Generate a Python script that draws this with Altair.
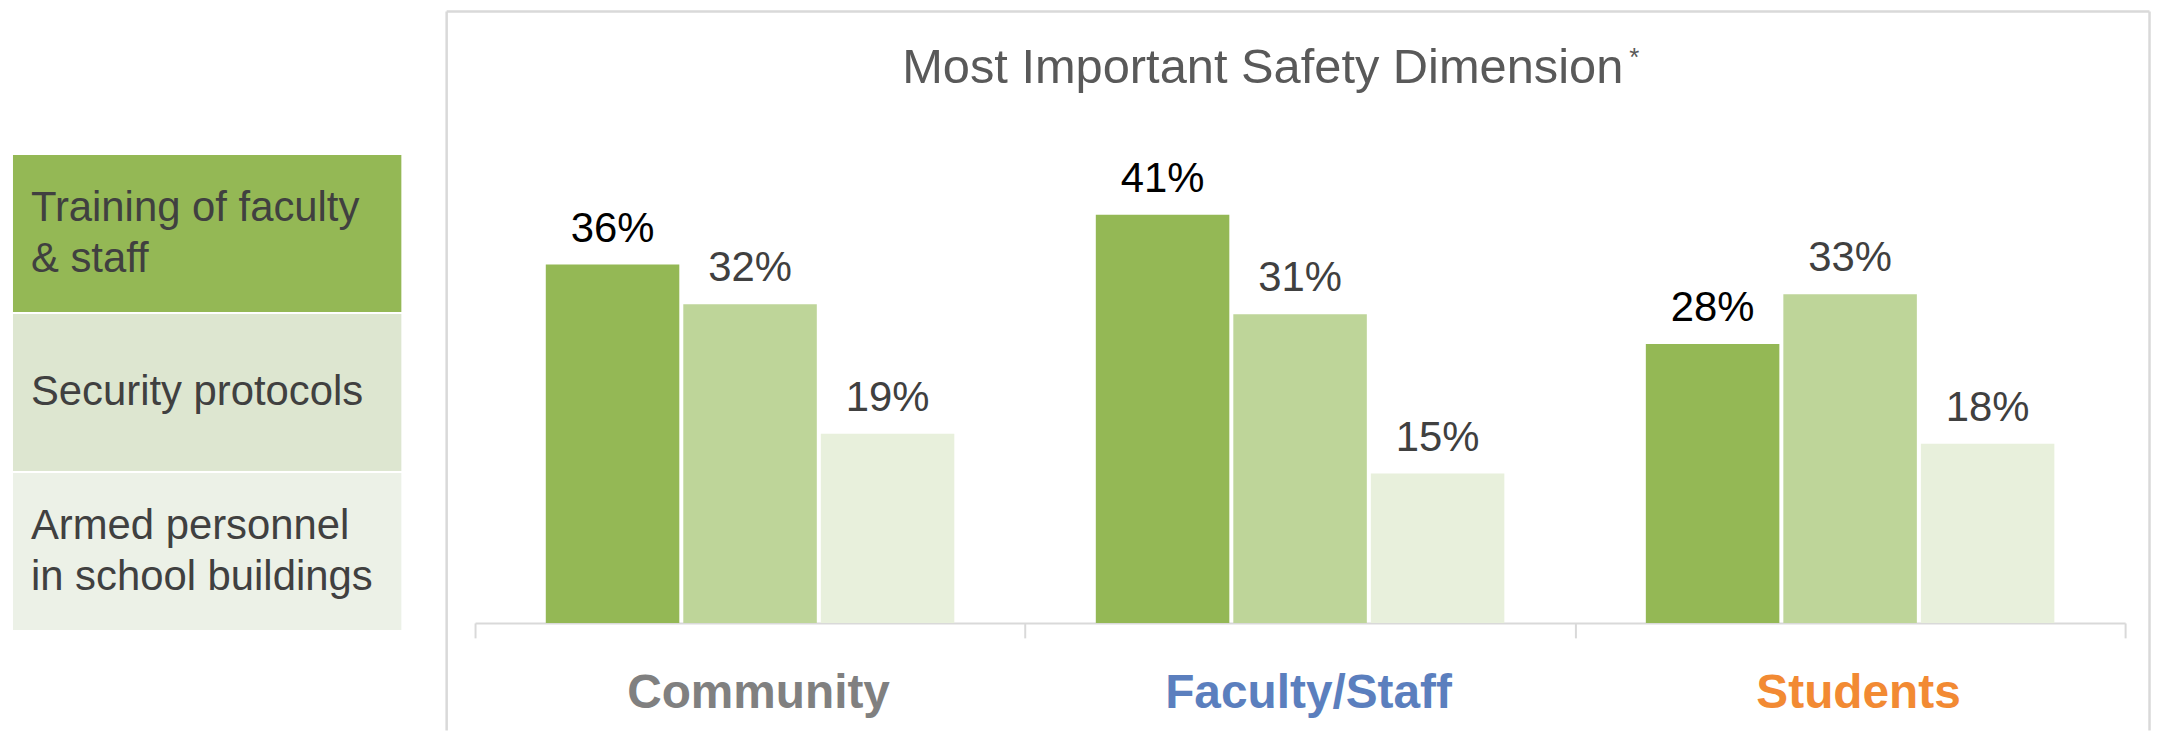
import altair as alt
import pandas as pd

# ---- data ----
categories = ["Community", "Faculty/Staff", "Students"]
series = ["Training of faculty & staff", "Security protocols", "Armed personnel in school buildings"]
legend_labels = ["Training of faculty\n& staff", "Security protocols", "Armed personnel\nin school buildings"]
training = [36, 41, 28]
security = [32, 31, 33]
armed = [19, 15, 18]
title_text = ["Most Important Safety Dimension"]
title_note = ["*"]

# ---- styles ----
category_colors = ["#808080", "#5b7fbe", "#f28a33"]
bar_colors = ["#94b855", "#bed599", "#e8f0dc"]
legend_colors = ["#94b855", "#dde6d0", "#ecf1e7"]
FONT = "Liberation Sans"
W, H = 1657, 470
YMAX = 47
FRAME = "#d9d9d9"
LINE_H = 51

rows = []
for s, vals in zip(series, [training, security, armed]):
    for c, v in zip(categories, vals):
        rows.append({"category": c, "series": s, "value": v})
df = pd.DataFrame(rows)

label_color = {
    "condition": [
        {"test": f"datum.value === '{c}'", "value": col}
        for c, col in zip(categories[:-1], category_colors[:-1])
    ],
    "value": category_colors[-1],
}

base = alt.Chart(df).encode(
    x=alt.X(
        "category:N",
        sort=categories,
        scale=alt.Scale(paddingInner=0, paddingOuter=0),
        axis=alt.Axis(
            title=None,
            labelAngle=0,
            labelLimit=0,
            labelOffset=8,
            labelFont=FONT,
            labelFontSize=48,
            labelFontWeight="bold",
            labelColor=label_color,
            labelBaseline="alphabetic",
            labelPadding=70,
            domainColor=FRAME,
            domainWidth=2,
            tickColor=FRAME,
            tickWidth=2,
            tickSize=15,
            tickBand="extent",
        ),
    ),
    xOffset=alt.XOffset("series:N", sort=series, scale=alt.Scale(paddingInner=0.029, paddingOuter=0.5145)),
    y=alt.Y("value:Q", scale=alt.Scale(domain=[0, YMAX]), axis=None),
)

bars = base.mark_bar().encode(
    color=alt.Color("series:N", sort=series, scale=alt.Scale(domain=series, range=bar_colors), legend=None)
)

labels = (
    base.transform_calculate(label="datum.value + '%'")
    .mark_text(baseline="alphabetic", dy=-23, font=FONT, fontSize=42)
    .encode(
        text="label:N",
        color=alt.condition(alt.datum.series == series[0], alt.value("#000000"), alt.value("#404040")),
    )
)

one = pd.DataFrame({"t": title_text})
title_mark = alt.Chart(one).mark_text(
    align="center", baseline="alphabetic", font=FONT, fontSize=49, color="#595959"
).encode(text="t:N", x=alt.value(791), y=alt.value(-72))

note = pd.DataFrame({"t": title_note})
note_mark = alt.Chart(note).mark_text(
    align="left", baseline="alphabetic", font=FONT, fontSize=26, color="#595959"
).encode(text="t:N", x=alt.value(1159), y=alt.value(-89))

frame_data = pd.DataFrame({"k": [0]})
frame_left = alt.Chart(frame_data).mark_rule(color=FRAME, strokeWidth=2.5).encode(
    x=alt.value(-28.5), y=alt.value(-144), y2=alt.value(578)
)
frame_top = alt.Chart(frame_data).mark_rule(color=FRAME, strokeWidth=2.5).encode(
    x=alt.value(-28.5), x2=alt.value(W + 24.5), y=alt.value(-144)
)
frame_right = alt.Chart(frame_data).mark_rule(color=FRAME, strokeWidth=2.5).encode(
    x=alt.value(W + 24.5), y=alt.value(-144), y2=alt.value(578)
)

bar_chart = alt.layer(
    frame_left, frame_top, frame_right, bars, labels, title_mark, note_mark
).properties(width=W, height=H)

leg_df = pd.DataFrame({"series": series, "label": legend_labels})
leg_base = alt.Chart(leg_df).encode(
    y=alt.Y("series:N", sort=series, scale=alt.Scale(paddingInner=0.0126, paddingOuter=0), axis=None)
)
leg_rect = leg_base.mark_rect().encode(
    x=alt.value(0),
    x2=alt.value(390),
    color=alt.Color("series:N", sort=series, scale=alt.Scale(domain=series, range=legend_colors), legend=None),
)
leg_text = (
    leg_base.transform_calculate(nlines="length(split(datum.label, '\\n'))")
    .mark_text(
        align="left",
        baseline="middle",
        lineBreak="\n",
        lineHeight=LINE_H,
        font=FONT,
        fontSize=42,
        color="#404040",
        dy={"expr": f"-(datum.nlines - 1) * {LINE_H / 2}"},
    )
    .encode(text="label:N", x=alt.value(18))
)
legend = alt.layer(leg_rect, leg_text).properties(width=390, height=477)

chart = (
    alt.hconcat(legend, bar_chart, spacing=74, bounds="flush")
    .resolve_scale(color="independent")
    .properties(padding={"left": 4, "top": 0, "right": 0, "bottom": 0})
    .configure(font=FONT)
    .configure_view(stroke="transparent")
)

chart.save("out.html", embed_options={"renderer": "svg", "actions": False})
